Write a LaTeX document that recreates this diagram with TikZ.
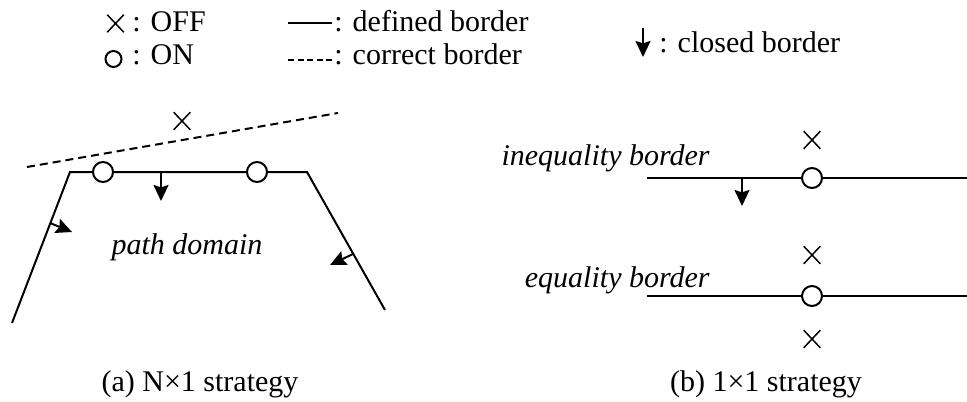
\documentclass[tikz,border=0pt]{standalone}
\usepackage{fontspec}
\setmainfont{Liberation Serif}
\usetikzlibrary{arrows.meta,shapes.misc}

\begin{document}
\begin{tikzpicture}[
    x=0.5pt,y=-0.5pt,
    every node/.style={inner sep=0pt,font=\fontsize{15}{18}\selectfont},
    border/.style={line width=1pt},
    correct/.style={line width=1pt,dash pattern=on 4pt off 2.5pt},
    closed/.style={-{Stealth[length=8pt,width=7.5pt,inset=1.2pt]},line width=1pt},
    offpt/.style={cross out,draw,line width=0.75pt,minimum width=7.5pt,minimum height=8pt},
    onpt/.style={circle,draw,fill=white,line width=1pt,minimum size=10pt}
  ]
  \useasboundingbox (0,0) rectangle (967,401);

  % legend
  \node[offpt] (offsym) at (115.5,23.5) {};
  \node[anchor=base west] (offtxt) at (132,32) {: OFF};
  \node[onpt,minimum size=8pt] (onsym) at (113.5,59) {};
  \node[anchor=base west] (ontxt) at (132,65) {: ON};
  \coordinate (defA) at (288,23);
  \coordinate (defB) at (332,23);
  \draw[border] (defA) -- (defB);
  \node[anchor=base west] (deftxt) at (334,32) {: defined border};
  \coordinate (corA) at (288,60);
  \coordinate (corB) at (332,60);
  \draw[line width=1pt,dash pattern=on 3pt off 1.75pt] (corA) -- (corB);
  \node[anchor=base west] (cortxt) at (334,65) {: correct border};
  \coordinate (clA) at (643,28);
  \coordinate (clB) at (643,57);
  \draw[closed] (clA) -- (clB);
  \node[anchor=base west] (cltxt) at (659,53) {: closed border};

  % (a) N x 1
  \coordinate (tl) at (70,172);
  \coordinate (tr) at (307,172);
  \coordinate (bl) at (12,323);
  \coordinate (br) at (385,310);
  \draw[border] (bl) -- (tl) -- (tr) -- (br);
  \coordinate (cA) at (27,167);
  \coordinate (cB) at (338,113);
  \draw[correct] (cA) -- (cB);
  \node[offpt] (offa) at (182,121) {};
  \node[onpt] (ona1) at (103,172) {};
  \node[onpt] (ona2) at (257,172) {};
  \coordinate (topS) at (161,172);
  \coordinate (topE) at (161,201);
  \draw[closed] (topS) -- (topE);
  \coordinate (lftS) at (50,223);
  \coordinate (lftE) at (72,232);
  \draw[closed] (lftS) -- (lftE);
  \coordinate (rgtS) at (353,254);
  \coordinate (rgtE) at (330,265);
  \draw[closed] (rgtS) -- (rgtE);
  \node (dom) at (187,247) {\itshape path domain};
  \node[anchor=base] (capa) at (200,391) {(a) N×1 strategy};

  % (b) 1 x 1
  \coordinate (inA) at (647,178);
  \coordinate (inB) at (967,178);
  \draw[border] (inA) -- (inB);
  \node[anchor=base east] (intxt) at (710,165) {\itshape inequality border};
  \node[onpt] (onb1) at (812,178) {};
  \node[offpt] (offb1) at (812,140) {};
  \coordinate (inS) at (742,178);
  \coordinate (inE) at (742,206);
  \draw[closed] (inS) -- (inE);
  \coordinate (eqA) at (647,296);
  \coordinate (eqB) at (967,296);
  \draw[border] (eqA) -- (eqB);
  \node[anchor=base east] (eqtxt) at (710,287) {\itshape equality border};
  \node[onpt] (onb2) at (812,296) {};
  \node[offpt] (offb2) at (812,255) {};
  \node[offpt] (offb3) at (812,339) {};
  \node[anchor=base] (capb) at (766,391) {(b) 1×1 strategy};
\end{tikzpicture}
\end{document}
